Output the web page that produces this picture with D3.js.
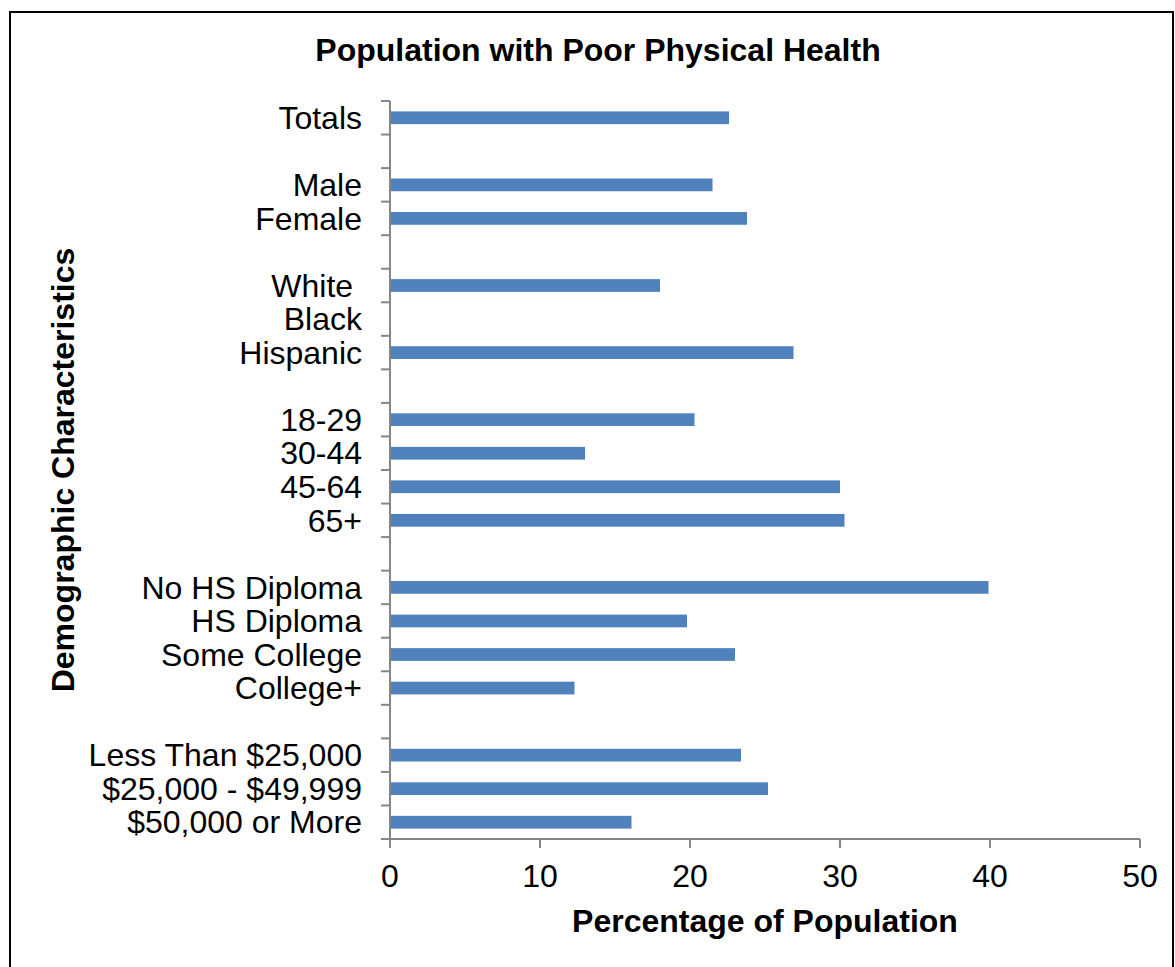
<!DOCTYPE html>
<html>
<head>
<meta charset="utf-8">
<script src="https://cdn.jsdelivr.net/npm/d3@7"></script>
<style>
  html, body { margin: 0; padding: 0; background: #fff; }
  svg { display: block; font-family: Arial, "Liberation Sans", sans-serif; }
</style>
</head>
<body>
<div id="chart"></div>
<script>
// Row labels, top to bottom (empty strings are the spacer rows between groups)
const categories = [
  'Totals', '',
  'Male', 'Female', '',
  'White ', 'Black', 'Hispanic', '',
  '18-29', '30-44', '45-64', '65+', '',
  'No HS Diploma', 'HS Diploma', 'Some College', 'College+', '',
  'Less Than $25,000', '$25,000 - $49,999', '$50,000 or More'
];

// Percentage of population with poor physical health (null = no bar)
const values = [
  22.6, null,
  21.5, 23.8, null,
  18.0, null, 26.9, null,
  20.3, 13.0, 30.0, 30.3, null,
  39.9, 19.8, 23.0, 12.3, null,
  23.4, 25.2, 16.1
];

const xTicks = [0, 10, 20, 30, 40, 50];

const W = 1175, H = 967;
const margin = { top: 101, right: 35, bottom: 128, left: 390 };

const svg = d3.select('#chart')
  .append('svg')
  .attr('width', W)
  .attr('height', H);

// Outer frame
svg.append('rect')
  .attr('x', 10).attr('y', 12)
  .attr('width', 1163).attr('height', 980)
  .attr('fill', 'none')
  .attr('stroke', '#000')
  .attr('stroke-width', 2);

const rows = categories.map((c, i) => ({ i, label: c, value: values[i] }));

const x = d3.scaleLinear()
  .domain([0, 50])
  .range([margin.left, W - margin.right]);

const y = d3.scaleBand()
  .domain(rows.map(d => d.i))
  .range([margin.top, H - margin.bottom])
  .paddingInner(0.62)
  .paddingOuter(0.31);

const axisColor = '#868686';
const fontSize = 32;

// Bars
svg.append('g')
  .selectAll('rect')
  .data(rows.filter(d => d.value != null))
  .enter().append('rect')
  .attr('x', x(0))
  .attr('y', d => y(d.i))
  .attr('width', d => x(d.value) - x(0))
  .attr('height', y.bandwidth())
  .attr('fill', '#4F81BD');

// Y axis line + ticks at row boundaries
const y0 = y.range()[0], y1 = y.range()[1];
const yAxis = svg.append('g');
yAxis.append('line')
  .attr('x1', x(0)).attr('x2', x(0))
  .attr('y1', y0).attr('y2', y1)
  .attr('stroke', axisColor).attr('stroke-width', 2);
yAxis.selectAll('.ytick')
  .data(d3.range(categories.length + 1))
  .enter().append('line')
  .attr('x1', x(0) - 9).attr('x2', x(0))
  .attr('y1', i => y0 + i * y.step())
  .attr('y2', i => y0 + i * y.step())
  .attr('stroke', axisColor).attr('stroke-width', 2);

// Row labels
svg.append('g')
  .selectAll('text')
  .data(rows.filter(d => d.label))
  .enter().append('text')
  .attr('x', x(0) - 28)
  .attr('y', d => y(d.i) + y.bandwidth() / 2)
  .attr('dy', '0.35em')
  .attr('text-anchor', 'end')
  .attr('font-size', fontSize)
  .style('white-space', 'pre')
  .attr('fill', '#000')
  .text(d => d.label);

// X axis
const xAxis = svg.append('g');
xAxis.append('line')
  .attr('x1', x(0)).attr('x2', x(50))
  .attr('y1', y1).attr('y2', y1)
  .attr('stroke', axisColor).attr('stroke-width', 2);
xAxis.selectAll('.xtick')
  .data(xTicks)
  .enter().append('line')
  .attr('x1', d => x(d)).attr('x2', d => x(d))
  .attr('y1', y1).attr('y2', y1 + 9)
  .attr('stroke', axisColor).attr('stroke-width', 2);
xAxis.selectAll('text')
  .data(xTicks)
  .enter().append('text')
  .attr('x', d => x(d))
  .attr('y', y1 + 48)
  .attr('text-anchor', 'middle')
  .attr('font-size', fontSize)
  .attr('fill', '#000')
  .text(d => d);

// Titles
svg.append('text')
  .attr('x', 598).attr('y', 61)
  .attr('text-anchor', 'middle')
  .attr('font-size', 32)
  .attr('font-weight', 'bold')
  .text('Population with Poor Physical Health');

svg.append('text')
  .attr('x', (x(0) + x(50)) / 2).attr('y', 932)
  .attr('text-anchor', 'middle')
  .attr('font-size', 32)
  .attr('font-weight', 'bold')
  .text('Percentage of Population');

svg.append('text')
  .attr('transform', 'translate(74,470) rotate(-90)')
  .attr('text-anchor', 'middle')
  .attr('font-size', 32)
  .attr('font-weight', 'bold')
  .text('Demographic Characteristics');
</script>
</body>
</html>
